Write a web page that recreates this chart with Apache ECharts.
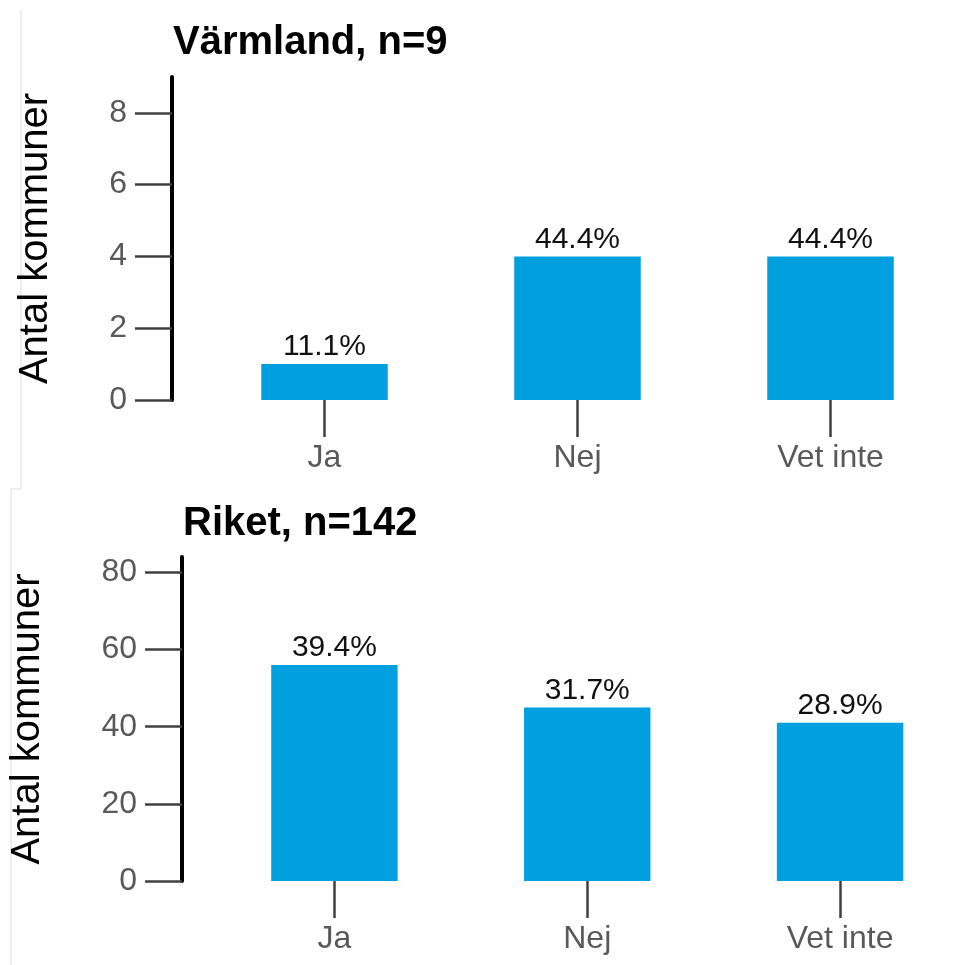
<!DOCTYPE html>
<html>
<head>
<meta charset="utf-8">
<script src="https://cdn.jsdelivr.net/npm/echarts@6/dist/echarts.min.js"></script>
<style>
html,body{margin:0;padding:0;background:#fff;}
#chart{width:976px;height:965px;}
</style>
</head>
<body>
<div id="chart"></div>
<script>
const categories = ['Ja', 'Nej', 'Vet inte'];
const varmlandCounts = [1, 4, 4];
const varmlandPct = ['11.1%', '44.4%', '44.4%'];
const riketCounts = [56, 45, 41];
const riketPct = ['39.4%', '31.7%', '28.9%'];
const varmlandTicks = [0, 2, 4, 6, 8];
const riketTicks = [0, 20, 40, 60, 80];
const titles = ['Värmland, n=9', 'Riket, n=142'];
const yName = 'Antal kommuner';

const FONT = '"Liberation Sans", Arial, sans-serif';
const BAR = '#009FE0';

function yAxisCfg(gridIndex, max, ticks, nameGap) {
  return {
    type: 'value', gridIndex, min: 0, max,
    offset: 26,
    name: yName, nameLocation: 'middle', nameGap,
    nameTextStyle: { fontFamily: FONT, fontSize: 40, color: '#000' },
    axisLine: { show: true, lineStyle: { color: '#000', width: 4 } },
    axisTick: { show: true, length: 37, customValues: ticks, lineStyle: { color: '#404040', width: 2.5 } },
    axisLabel: { show: true, margin: 45, customValues: ticks, fontFamily: FONT, fontSize: 32, color: '#595959' },
    splitLine: { show: false }
  };
}
function xAxisCfg(gridIndex) {
  return {
    type: 'category', gridIndex, data: categories,
    axisLine: { show: false },
    axisTick: { show: true, alignWithLabel: true, length: 37, lineStyle: { color: '#404040', width: 2.5 } },
    axisLabel: { margin: 42, fontFamily: FONT, fontSize: 32, color: '#595959' }
  };
}
function seriesCfg(idx, data, pct) {
  return {
    type: 'bar', xAxisIndex: idx, yAxisIndex: idx, data,
    barWidth: '50%',
    itemStyle: { color: BAR },
    label: {
      show: true, position: 'top', distance: 2,
      fontFamily: FONT, fontSize: 30, color: '#111',
      formatter: p => pct[p.dataIndex]
    }
  };
}

const chart = echarts.init(document.getElementById('chart'));
chart.setOption({
  backgroundColor: '#fff',
  animation: false,
  title: [
    { text: titles[0], left: 168, top: 18, textStyle: { fontFamily: FONT, fontSize: 40, fontWeight: 'bold', color: '#000' } },
    { text: titles[1], left: 178, top: 499, textStyle: { fontFamily: FONT, fontSize: 40, fontWeight: 'bold', color: '#000' } }
  ],
  grid: [
    { left: 198, right: 19, top: 77, bottom: 565, containLabel: false },
    { left: 207, right: 9.5, top: 557, bottom: 84, containLabel: false }
  ],
  xAxis: [xAxisCfg(0), xAxisCfg(1)],
  yAxis: [yAxisCfg(0, 9, varmlandTicks, 116), yAxisCfg(1, 84, riketTicks, 134)],
  series: [seriesCfg(0, varmlandCounts, varmlandPct), seriesCfg(1, riketCounts, riketPct)],
  graphic: [
    { type: 'polyline', shape: { points: [[21, 10], [21, 489], [11, 489], [11, 965]] }, style: { stroke: '#dddddd', lineWidth: 1, fill: null } }
  ]
});
</script>
</body>
</html>
